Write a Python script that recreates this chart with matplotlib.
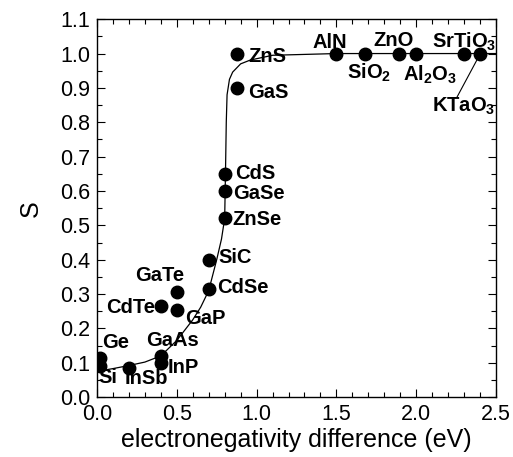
import matplotlib
matplotlib.use("Agg")
import matplotlib.pyplot as plt
from matplotlib.ticker import MultipleLocator

plt.rcParams['font.family'] = ['Liberation Sans', 'DejaVu Sans']
plt.rcParams['mathtext.fontset'] = 'custom'
plt.rcParams['mathtext.rm'] = 'Liberation Sans:bold'
plt.rcParams['mathtext.bf'] = 'Liberation Sans:bold'

# compounds: electronegativity difference vs S
names = ['Si', 'Ge', 'InSb', 'InP', 'GaAs', 'CdTe', 'GaP', 'GaTe', 'CdSe', 'SiC',
         'ZnSe', 'GaSe', 'CdS', 'GaS', 'ZnS', 'AlN', 'SiO$_2$', 'ZnO', 'Al$_2$O$_3$',
         'SrTiO$_3$', 'KTaO$_3$']
x_vals = [0.02, 0.02, 0.20, 0.40, 0.40, 0.40, 0.50, 0.50, 0.70, 0.70,
          0.80, 0.80, 0.80, 0.875, 0.875, 1.50, 1.68, 1.89, 2.00,
          2.30, 2.40]
s_vals = [0.09, 0.115, 0.085, 0.10, 0.12, 0.265, 0.255, 0.305, 0.315, 0.40,
          0.52, 0.60, 0.65, 0.90, 1.00, 1.00, 1.00, 1.00, 1.00,
          1.00, 1.00]
# label anchor (left edge, vertical centre)
label_x = [0.01, 0.03, 0.175, 0.44, 0.31, 0.06, 0.55, 0.24, 0.75, 0.76,
           0.85, 0.85, 0.865, 0.946, 0.946, 1.35, 1.565, 1.73, 1.92,
           2.10, 2.10]
label_y = [0.058, 0.16, 0.055, 0.087, 0.166, 0.262, 0.228, 0.355, 0.32, 0.405,
           0.518, 0.594, 0.652, 0.888, 0.99, 1.033, 0.943, 1.039, 0.937,
           1.033, 0.845]

# fitted curve
curve_x = [0.0, 0.1, 0.2, 0.3, 0.4, 0.5, 0.55, 0.6, 0.65, 0.7, 0.75, 0.78,
           0.80, 0.805, 0.81, 0.815, 0.83, 0.85, 0.9, 0.96, 1.1, 1.5, 2.0, 2.5]
curve_y = [0.075, 0.083, 0.092, 0.102, 0.12, 0.165, 0.195, 0.225, 0.262, 0.31, 0.40, 0.46,
           0.52, 0.65, 0.80, 0.88, 0.925, 0.946, 0.97, 0.981, 0.995, 1.0, 1.0, 1.0]

fig = plt.figure(figsize=(5.13, 4.57), dpi=100)
ax = fig.add_axes([0.189, 0.131, 0.778, 0.827])

ax.plot(curve_x, curve_y, color='black', lw=0.9, zorder=2)
ax.plot(x_vals, s_vals, 'o', color='black', ms=9, zorder=3)

for n, lx, ly in zip(names, label_x, label_y):
    ax.text(lx, ly, n, fontsize=14.5, fontweight='bold', ha='left', va='center', zorder=4)

# leader line for KTaO3
ax.plot([2.255, 2.39], [0.873, 0.99], color='black', lw=0.8)

ax.set_xlim(0, 2.5)
ax.set_ylim(0, 1.1)
ax.xaxis.set_major_locator(MultipleLocator(0.5))
ax.xaxis.set_minor_locator(MultipleLocator(0.1))
ax.yaxis.set_major_locator(MultipleLocator(0.1))
ax.yaxis.set_minor_locator(MultipleLocator(0.05))
ax.xaxis.set_major_formatter(plt.FormatStrFormatter('%.1f'))
ax.yaxis.set_major_formatter(plt.FormatStrFormatter('%.1f'))
ax.tick_params(which='both', direction='in', top=True, right=True, labelsize=15.5)
ax.tick_params(which='major', length=6, width=0.8, pad=5)
ax.tick_params(which='minor', length=3.5, width=0.8)
for sp in ax.spines.values():
    sp.set_linewidth(1.0)

ax.set_xlabel('electronegativity difference (eV)', fontsize=18, labelpad=2)
ax.set_ylabel('S', fontsize=18, labelpad=12)

fig.savefig('out.png', dpi=100)
